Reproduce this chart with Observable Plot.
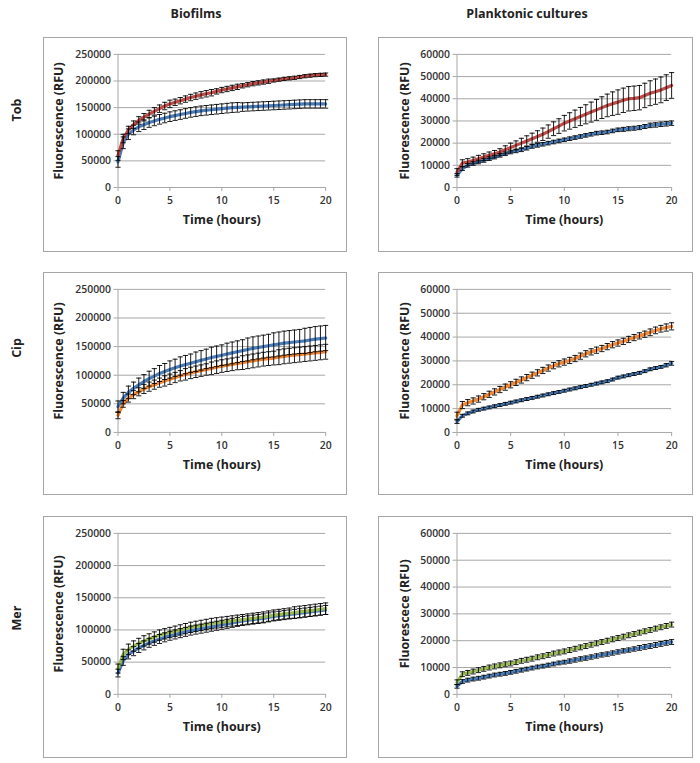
<!DOCTYPE html>
<html><head><meta charset="utf-8">
<script src="https://cdn.jsdelivr.net/npm/d3@7"></script>
<script src="https://cdn.jsdelivr.net/npm/@observablehq/plot@0.6"></script>
<style>
body{margin:0;background:#fff;width:700px;height:763px;position:relative;font-family:"Open Sans",sans-serif;overflow:hidden}
.panel{position:absolute;border:1px solid #a6a6a6;box-sizing:border-box;background:#fff}
.panel svg{position:absolute;left:-1px;top:-1px}
.hdr{position:absolute;font-weight:bold;font-size:12.5px;color:#222;transform:translate(-50%,-50%);white-space:nowrap}
.rowlab{position:absolute;font-weight:bold;font-size:12.5px;color:#222;transform:translate(-50%,-50%) rotate(-90deg);white-space:nowrap}
</style></head><body>
<script>
// ---- data ----
const times = [0,0.5,1,1.5,2,2.5,3,3.5,4,4.5,5,5.5,6,6.5,7,7.5,8,8.5,9,9.5,10,10.5,11,11.5,12,12.5,13,13.5,14,14.5,15,15.5,16,16.5,17,17.5,18,18.5,19,19.5,20];
const xTicks = [0,5,10,15,20];
const bioTicks = [0,50000,100000,150000,200000,250000];
const plTicks = [0,10000,20000,30000,40000,50000,60000];
const columnTitles = ["Biofilms","Planktonic cultures"];
const rowTitles = ["Tob","Cip","Mer"];
const xLabel = "Time (hours)";
const yLabels = ["Fluorescence (RFU)","Fluorescence (RFU)","Fluorescence (RFU)","Fluorescence (RFU)","Fluorescence (RFU)","Fluorescece (RFU)"];

// Tob biofilm
const tobBioBlue = [48000,84000,100000,108000,114000,118000,122000,125000,128000,130500,133000,135000,137000,139000,141000,142500,144000,145000,146000,147000,148000,149000,150000,150500,151000,151500,152000,152500,153000,153500,154000,154500,155000,155500,156000,156500,157000,157000,157000,157000,157000];
const tobBioBlueErr = [10000,11000,10000,9000,9000,9000,9000,9000,9000,9000,9000,9000,9000,9000,9000,9000,9000,9000,9000,9000,9000,9000,9000,9000,8000,8000,8000,8000,8000,8000,8000,8000,8000,8000,8000,8000,8000,8000,8000,8000,8000];
const tobBioRed = [60000,92000,108000,118000,126000,132000,138000,143000,148000,153000,157000,160000,163000,166000,169000,171500,174000,176000,178000,180500,183000,185000,187000,189000,191000,193000,195000,196500,198000,199500,201000,202500,204000,205000,206000,207500,209000,210000,211000,211500,212000];
const tobBioRedErr = [9000,8000,7000,7000,7000,7000,7000,7000,7000,7000,7000,6000,6000,6000,6000,6000,6000,6000,6000,5000,5000,5000,5000,5000,4000,4000,4000,4000,4000,4000,3000,3000,3000,3000,3000,3000,3000,3000,3000,3000,3000];
// Tob planktonic
const tobPlBlue = [5500,8500,10000,10800,11500,12200,13000,13700,14500,15200,16000,16500,17000,17700,18500,19000,19500,20000,20500,21000,21500,22000,22500,23000,23500,24000,24500,24700,25000,25500,26000,26200,26500,26700,27000,27500,28000,28200,28500,28700,29000];
const tobPlBlueErr = [800,800,800,800,800,800,800,800,800,800,800,800,800,800,800,800,800,800,800,800,800,800,800,800,800,800,800,800,800,800,800,900,900,900,900,900,1000,1000,1000,1000,1000];
const tobPlRed = [7000,11000,11500,12200,13000,13700,14500,15200,16000,17000,18000,19000,20000,21000,22000,23000,24000,25200,26500,27700,29000,30000,31000,32000,33000,34000,35000,36000,37000,37800,38500,39300,40000,40200,40500,41500,42500,43200,44000,45000,46000];
const tobPlRedErr = [1500,1500,1500,1500,1500,1500,1500,1500,1500,1800,2000,2000,2200,2300,2500,2600,2800,3000,3100,3300,3500,3700,3900,4100,4300,4500,4700,4900,5100,5300,5500,5500,5500,5500,5500,5500,5600,5700,5800,5800,5800];
// Cip biofilm
const cipBioBlue = [45000,60000,70000,77000,83000,89000,94000,98500,103000,106500,110000,113000,116000,118500,121000,123500,126000,128500,131000,133000,135000,137000,139000,141000,143000,145000,147000,148500,150000,151500,153000,154500,156000,157000,158000,159000,160000,161500,163000,164000,165000];
const cipBioBlueErr = [10000,10000,11000,11000,12000,12000,13000,13000,14000,14000,15000,15000,16000,16000,16000,17000,17000,17000,18000,18000,18000,19000,19000,19000,19000,20000,20000,20000,20000,20000,21000,21000,21000,21000,21000,21000,22000,22000,22000,22000,22000];
const cipBioOrange = [30000,50000,60000,66000,71000,76000,80000,83500,87000,90000,93000,96000,99000,101500,104000,106000,108000,110000,112000,114000,116000,117500,119000,120500,122000,123500,125000,126500,128000,129000,130000,131500,133000,134000,135000,136000,137000,138000,139000,140000,141000];
const cipBioOrangeErr = [6000,6000,7000,7000,7000,8000,8000,8000,8000,9000,9000,9000,9000,10000,10000,10000,10000,10000,11000,11000,11000,11000,11000,11000,12000,12000,12000,12000,12000,12000,12000,13000,13000,13000,13000,13000,13000,13000,13000,13000,13000];
// Cip planktonic
const cipPlBlue = [4500,7000,8000,8800,9500,10000,10500,11000,11500,12000,12500,13000,13500,14000,14500,15000,15500,16000,16500,17000,17500,18000,18500,19000,19500,20000,20500,21000,21500,22200,23000,23500,24000,24500,25000,25700,26500,27000,27500,28200,29000];
const cipPlBlueErr = [700,600,600,600,600,600,600,600,600,600,600,600,600,600,600,600,600,600,600,600,600,600,600,600,600,600,600,600,600,600,600,600,600,600,600,600,600,600,600,700,800];
const cipPlOrange = [7000,11500,12500,13200,14000,15000,16000,17000,18000,19000,20000,21000,22000,23000,24000,25000,26000,27000,28000,28800,29500,30200,31000,32000,33000,33800,34500,35200,36000,36800,37500,38200,39000,39800,40500,41200,42000,42800,43500,44000,44500];
const cipPlOrangeErr = [1500,1500,1300,1300,1300,1300,1300,1300,1300,1300,1300,1300,1300,1300,1300,1300,1300,1300,1300,1300,1300,1300,1300,1300,1300,1300,1300,1300,1300,1300,1300,1300,1300,1300,1300,1300,1400,1400,1400,1500,1500];
// Mer biofilm
const merBioBlue = [33000,52000,62000,67000,72000,76000,80000,83000,86000,88500,91000,93000,95000,97000,99000,100500,102000,103500,105000,106500,108000,109500,111000,112500,114000,115000,116000,117000,118000,119500,121000,122000,123000,124000,125000,126000,127000,128000,129000,130000,131000];
const merBioBlueErr = [6000,7000,7000,7000,7000,7000,7000,7000,7000,7000,7000,7000,7000,7000,7000,7000,7000,7000,7000,7000,7000,7000,7000,7000,7000,7000,7000,7000,7000,7000,7000,7000,7000,7000,7000,7000,7000,7000,7000,7000,7000];
const merBioGreen = [40000,62000,70000,75000,79000,83000,86000,89000,92000,94000,96000,98000,100000,102000,104000,105500,107000,108500,110000,111000,112000,113000,114000,115000,116000,117000,118000,119000,120000,121500,123000,124000,125000,126000,127000,128000,129000,130000,131000,132000,133000];
const merBioGreenErr = [7000,8000,8000,8000,8000,8000,8000,8000,8000,8000,8000,8000,8000,8000,8000,8000,8000,8000,8000,8000,8000,8000,8000,8000,8000,8000,8000,8000,8000,8000,8000,8000,8000,8000,9000,9000,9000,9000,9000,9000,9000];
// Mer planktonic
const merPlBlue = [3000,4800,5300,5700,6000,6400,6800,7200,7500,7800,8200,8600,9000,9400,9800,10200,10500,10900,11300,11700,12000,12400,12800,13200,13500,13900,14300,14700,15000,15400,15800,16200,16500,16900,17300,17700,18000,18400,18800,19200,19500];
const merPlBlueErr = [700,700,700,700,700,700,700,700,700,700,700,700,700,700,700,700,700,700,700,700,700,800,800,800,800,800,800,800,800,800,800,800,800,800,900,900,900,900,900,900,900];
const merPlGreen = [4500,7500,8000,8500,9000,9500,10000,10400,10800,11200,11500,12000,12500,12900,13300,13800,14200,14700,15200,15600,16000,16500,17000,17500,18000,18500,19000,19500,20000,20500,21000,21500,22000,22500,23000,23500,24000,24500,25000,25500,26000];
const merPlGreenErr = [900,900,900,900,900,900,900,900,900,900,900,900,900,900,900,900,900,900,900,900,900,900,900,900,900,900,900,900,900,900,900,900,900,900,900,900,900,900,900,900,900];

const BLUE = "#4a7ebb", RED = "#be4b48", ORANGE = "#f08a34", GREEN = "#98b954";

// ---- layout ----
const cols = [{left:43, width:304, mL:75, mR:20, yDx:-59}, {left:378, width:315, mL:79, mR:20, yDx:-52}];
const rows = [{top:37, height:215, mT:17, mB:64}, {top:272, height:223, mT:17, mB:62}, {top:516, height:242, mT:17, mB:63}];

const panels = [
  {r:0,c:0, ymax:250000, yticks:bioTicks, series:[[tobBioBlue,tobBioBlueErr,BLUE],[tobBioRed,tobBioRedErr,RED]]},
  {r:0,c:1, ymax:60000, yticks:plTicks, series:[[tobPlBlue,tobPlBlueErr,BLUE],[tobPlRed,tobPlRedErr,RED]]},
  {r:1,c:0, ymax:250000, yticks:bioTicks, series:[[cipBioBlue,cipBioBlueErr,BLUE],[cipBioOrange,cipBioOrangeErr,ORANGE]]},
  {r:1,c:1, ymax:60000, yticks:plTicks, series:[[cipPlBlue,cipPlBlueErr,BLUE],[cipPlOrange,cipPlOrangeErr,ORANGE]]},
  {r:2,c:0, ymax:250000, yticks:bioTicks, series:[[merBioBlue,merBioBlueErr,BLUE],[merBioGreen,merBioGreenErr,GREEN]]},
  {r:2,c:1, ymax:60000, yticks:plTicks, series:[[merPlBlue,merPlBlueErr,BLUE],[merPlGreen,merPlGreenErr,GREEN]]},
];

const capSym = {draw(ctx, size){ const r = Math.sqrt(size/Math.PI); ctx.moveTo(-r,0); ctx.lineTo(r,0); }};

panels.forEach((p, i) => {
  const col = cols[p.c], row = rows[p.r];
  const lineMarks = [], errMarks = [];
  p.series.forEach(([vals, errs, color]) => {
    const data = vals.map((v, j) => ({t: times[j], v, e: errs[j]}));
    lineMarks.push(Plot.line(data, {x:"t", y:"v", stroke: color, strokeWidth: 3.2, strokeLinejoin:"round"}));
    errMarks.push(
      Plot.ruleX(data, {x:"t", y1: d => d.v - d.e, y2: d => d.v + d.e, stroke:"#000", strokeWidth:0.9}),
      Plot.dot(data, {x:"t", y: d => d.v + d.e, symbol: capSym, r: 2.6, stroke:"#000", strokeWidth:0.9, fill:"none"}),
      Plot.dot(data, {x:"t", y: d => d.v - d.e, symbol: capSym, r: 2.6, stroke:"#000", strokeWidth:0.9, fill:"none"})
    );
  });
  const svg = Plot.plot({
    width: col.width, height: row.height,
    marginLeft: col.mL, marginRight: col.mR, marginTop: row.mT, marginBottom: row.mB,
    x: {domain:[0,20]},
    y: {domain:[0,p.ymax]},
    style: {background:"transparent", fontFamily:"'Open Sans', sans-serif", fontSize:"10.5px", fontWeight:"600", color:"#333"},
    marks: [
      Plot.ruleY(p.yticks, {stroke:"#a6a6a6", strokeWidth:1}),
      Plot.ruleX([0], {stroke:"#a6a6a6", strokeWidth:1}),
      Plot.axisY({ticks: p.yticks, tickFormat: d => String(d), tickSize: 4, tickPadding: 3, stroke:"#a6a6a6", label: null}),
      Plot.axisX({ticks: xTicks, tickFormat: d => String(d), tickSize: 4, tickPadding: 5, stroke:"#a6a6a6", label: null}),
      ...lineMarks,
      ...errMarks,
      Plot.text([yLabels[i]], {frameAnchor:"left", textAnchor:"middle", dx: col.yDx, rotate:-90, fontSize:12.5, fontWeight:"bold", fill:"#222"}),
      Plot.text([xLabel], {frameAnchor:"bottom", textAnchor:"middle", dy: 37, fontSize:12.5, fontWeight:"bold", fill:"#222"})
    ]
  });
  const div = document.createElement("div");
  div.className = "panel";
  div.style.left = col.left + "px"; div.style.top = row.top + "px";
  div.style.width = col.width + "px"; div.style.height = row.height + "px";
  div.appendChild(svg);
  document.body.appendChild(div);
});

const hdrX = [196, 527];
columnTitles.forEach((t, i) => {
  const d = document.createElement("div"); d.className = "hdr"; d.textContent = t;
  d.style.left = hdrX[i] + "px"; d.style.top = "13px"; document.body.appendChild(d);
});
const rowY = [110, 348, 618];
rowTitles.forEach((t, i) => {
  const d = document.createElement("div"); d.className = "rowlab"; d.textContent = t;
  d.style.left = "16px"; d.style.top = rowY[i] + "px"; document.body.appendChild(d);
});
</script>
</body></html>
